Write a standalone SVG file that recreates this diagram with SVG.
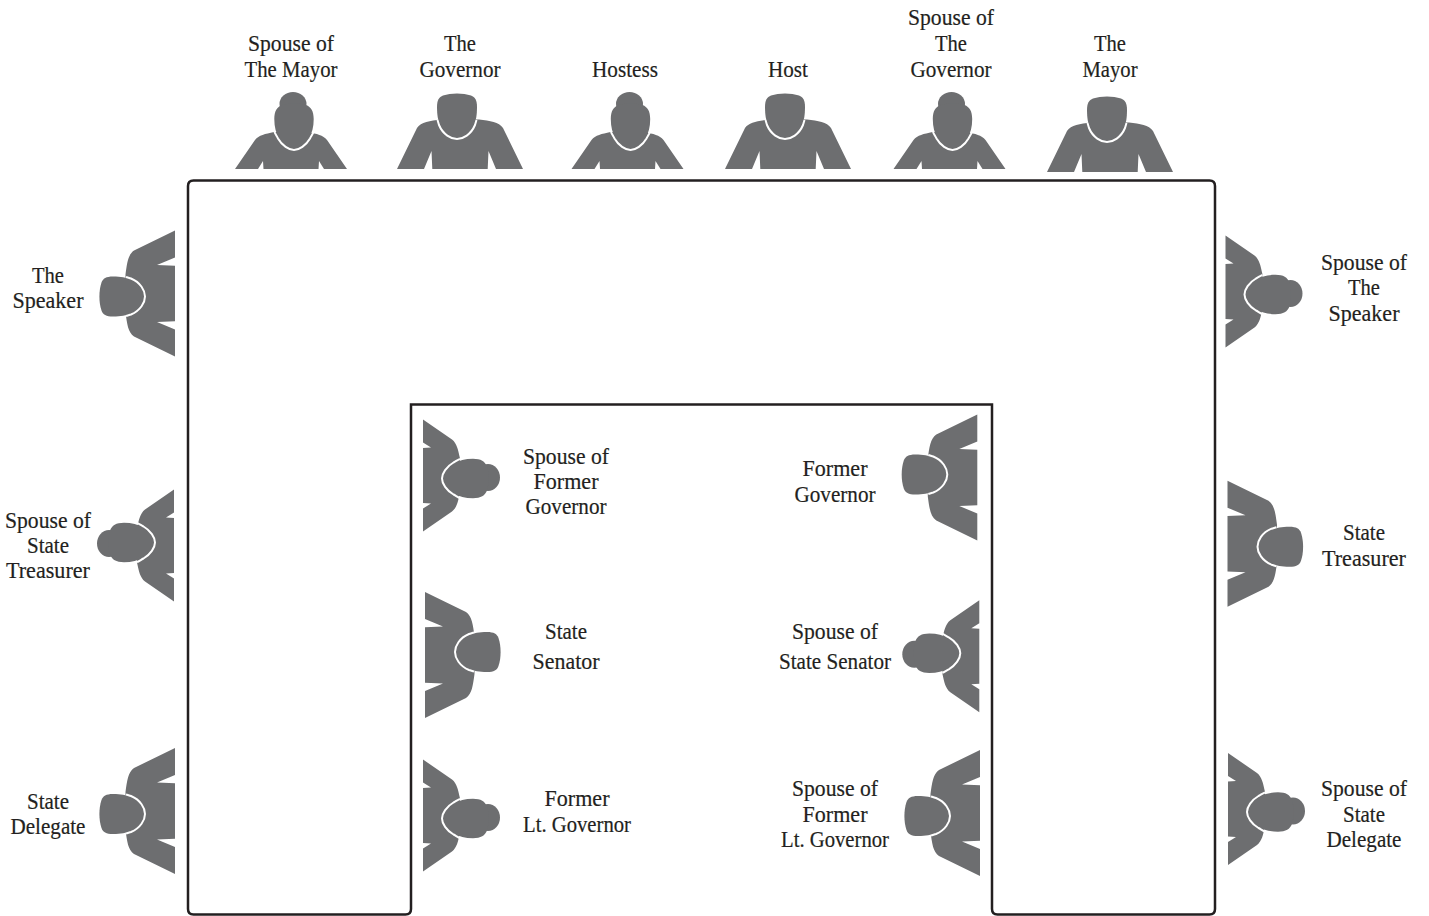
<svg xmlns="http://www.w3.org/2000/svg" xmlns:xlink="http://www.w3.org/1999/xlink" width="1429" height="916" viewBox="0 0 1429 916">
<style>
text{font-family:"Liberation Serif","Times New Roman",serif;font-size:23.5px;fill:#231f20;stroke:#231f20;stroke-width:.2;text-anchor:middle}
.f{fill:#6d6e70}
.a{fill:none;stroke:#fff;stroke-width:2}
</style>
<defs>
<g id="man">
<path class="f" d="M-63 0L-43 -41C-39 -47 -30 -48 -19 -49.5L19 -49.5C30 -48 39 -47 43 -41L63 0L36 0L28.5 -18L27.7 0L-27.7 0L-28.5 -18L-36 0Z"/>
<path class="f" d="M-23 -62C-23 -69 -21 -72 -17 -73.5C-9 -76.3 3 -76.3 11 -73.5C15 -72 17 -69 17 -62C17 -54 16 -49 14 -44C10 -35 3 -31 -3 -31C-9 -31 -16 -35 -20 -44C-22 -49 -23 -54 -23 -62Z"/>
<path class="a" d="M-22.5 -49C-22 -47.5 -21.5 -45.5 -21 -44C-17 -34.5 -9 -30 -3 -30C3 -30 11 -34.5 15 -44C15.5 -45.5 16 -47.5 16.5 -49"/>
</g>
<g id="woman">
<path class="f" d="M-56 0L-36 -29C-32 -34 -26 -35 -17 -37L17 -37C26 -35 32 -34 36 -29L56 0L33 0L28 -8L27.5 0L-27.5 0L-28 -8L-33 0Z"/>
<ellipse class="f" cx="2" cy="-65" rx="13.5" ry="12"/>
<path class="f" d="M-16.7 -50C-16.7 -58 -14 -62 -9 -64C-4 -66 10 -66 15 -64C20 -62 22.7 -58 22.7 -50C22.7 -42 21 -36 18 -31C14 -24 8 -20 3 -20C-2 -20 -8 -24 -12 -31C-15 -36 -16.7 -42 -16.7 -50Z"/>
<path class="a" d="M-16.5 -37C-16 -35.5 -14 -32.5 -13 -30.5C-9 -23.5 -2 -19 3 -19C8 -19 15 -23.5 19 -30.5C20 -32.5 22 -35.5 22.5 -37"/>
</g>
</defs>
<g id="connectors"></g>
<g id="table"><path d="M411 404.5L992 404.5L992 909Q992 914.5 997.5 914.5L1209.5 914.5Q1215 914.5 1215 909L1215 186Q1215 180.5 1209.5 180.5L193.5 180.5Q188 180.5 188 186L188 909Q188 914.5 193.5 914.5L405.5 914.5Q411 914.5 411 909Z" fill="none" stroke="#231f20" stroke-width="2.5"/></g>
<g id="spouse-mayor"><use xlink:href="#woman" transform="translate(291,169)"/><text x="291" y="50.5" textLength="86" lengthAdjust="spacingAndGlyphs">Spouse of</text><text x="291" y="76.5" textLength="93" lengthAdjust="spacingAndGlyphs">The Mayor</text></g>
<g id="governor"><use xlink:href="#man" transform="translate(460,169)"/><text x="460" y="50.5" textLength="32" lengthAdjust="spacingAndGlyphs">The</text><text x="460" y="76.5" textLength="81" lengthAdjust="spacingAndGlyphs">Governor</text></g>
<g id="hostess"><use xlink:href="#woman" transform="translate(627.5,169)"/><text x="625" y="76.5" textLength="66" lengthAdjust="spacingAndGlyphs">Hostess</text></g>
<g id="host"><use xlink:href="#man" transform="translate(788,169)"/><text x="788" y="76.5" textLength="40" lengthAdjust="spacingAndGlyphs">Host</text></g>
<g id="spouse-governor"><use xlink:href="#woman" transform="translate(949.5,169)"/><text x="951" y="24.5" textLength="86" lengthAdjust="spacingAndGlyphs">Spouse of</text><text x="951" y="50.5" textLength="32" lengthAdjust="spacingAndGlyphs">The</text><text x="951" y="76.5" textLength="81" lengthAdjust="spacingAndGlyphs">Governor</text></g>
<g id="mayor"><use xlink:href="#man" transform="translate(1110,172)"/><text x="1110" y="50.5" textLength="32" lengthAdjust="spacingAndGlyphs">The</text><text x="1110" y="76.5" textLength="55" lengthAdjust="spacingAndGlyphs">Mayor</text></g>
<g id="speaker"><use xlink:href="#man" transform="translate(175,293.5) rotate(-90)"/><text x="48" y="282.5" textLength="32" lengthAdjust="spacingAndGlyphs">The</text><text x="48" y="307.5" textLength="71" lengthAdjust="spacingAndGlyphs">Speaker</text></g>
<g id="spouse-speaker"><use xlink:href="#woman" transform="translate(1225.5,291.5) rotate(90)"/><text x="1364" y="269.5" textLength="86" lengthAdjust="spacingAndGlyphs">Spouse of</text><text x="1364" y="294.5" textLength="32" lengthAdjust="spacingAndGlyphs">The</text><text x="1364" y="320.5" textLength="71" lengthAdjust="spacingAndGlyphs">Speaker</text></g>
<g id="spouse-treasurer"><use xlink:href="#woman" transform="translate(174,545.5) rotate(-90)"/><text x="48" y="527.5" textLength="86" lengthAdjust="spacingAndGlyphs">Spouse of</text><text x="48" y="552.5" textLength="42" lengthAdjust="spacingAndGlyphs">State</text><text x="48" y="577.5" textLength="84" lengthAdjust="spacingAndGlyphs">Treasurer</text></g>
<g id="treasurer"><use xlink:href="#man" transform="translate(1227.5,543.7) rotate(90) scale(-1,1)"/><text x="1364" y="539.5" textLength="42" lengthAdjust="spacingAndGlyphs">State</text><text x="1364" y="565.5" textLength="84" lengthAdjust="spacingAndGlyphs">Treasurer</text></g>
<g id="delegate"><use xlink:href="#man" transform="translate(175,811) rotate(-90)"/><text x="48" y="808.5" textLength="42" lengthAdjust="spacingAndGlyphs">State</text><text x="48" y="833.5" textLength="75" lengthAdjust="spacingAndGlyphs">Delegate</text></g>
<g id="spouse-delegate"><use xlink:href="#woman" transform="translate(1228,809) rotate(90)"/><text x="1364" y="795.5" textLength="86" lengthAdjust="spacingAndGlyphs">Spouse of</text><text x="1364" y="821.5" textLength="42" lengthAdjust="spacingAndGlyphs">State</text><text x="1364" y="846.5" textLength="75" lengthAdjust="spacingAndGlyphs">Delegate</text></g>
<g id="spouse-former-governor"><use xlink:href="#woman" transform="translate(423,475.5) rotate(90)"/><text x="566" y="463.5" textLength="86" lengthAdjust="spacingAndGlyphs">Spouse of</text><text x="566" y="488.5" textLength="65" lengthAdjust="spacingAndGlyphs">Former</text><text x="566" y="513.5" textLength="81" lengthAdjust="spacingAndGlyphs">Governor</text></g>
<g id="senator"><use xlink:href="#man" transform="translate(425,655) rotate(90)"/><text x="566" y="638.5" textLength="42" lengthAdjust="spacingAndGlyphs">State</text><text x="566" y="668.5" textLength="67" lengthAdjust="spacingAndGlyphs">Senator</text></g>
<g id="former-lt-governor"><use xlink:href="#woman" transform="translate(423,815.5) rotate(90)"/><text x="577" y="805.5" textLength="65" lengthAdjust="spacingAndGlyphs">Former</text><text x="577" y="831.5" textLength="108" lengthAdjust="spacingAndGlyphs">Lt. Governor</text></g>
<g id="former-governor"><use xlink:href="#man" transform="translate(977.3,477.5) rotate(-90) scale(-1,1)"/><text x="835" y="475.5" textLength="65" lengthAdjust="spacingAndGlyphs">Former</text><text x="835" y="501.5" textLength="81" lengthAdjust="spacingAndGlyphs">Governor</text></g>
<g id="spouse-senator"><use xlink:href="#woman" transform="translate(979.3,656.3) rotate(-90)"/><text x="835" y="638.5" textLength="86" lengthAdjust="spacingAndGlyphs">Spouse of</text><text x="835" y="668.5" textLength="112" lengthAdjust="spacingAndGlyphs">State Senator</text></g>
<g id="spouse-former-lt-governor"><use xlink:href="#man" transform="translate(980,813) rotate(-90)"/><text x="835" y="795.5" textLength="86" lengthAdjust="spacingAndGlyphs">Spouse of</text><text x="835" y="821.5" textLength="65" lengthAdjust="spacingAndGlyphs">Former</text><text x="835" y="846.5" textLength="108" lengthAdjust="spacingAndGlyphs">Lt. Governor</text></g>
</svg>
